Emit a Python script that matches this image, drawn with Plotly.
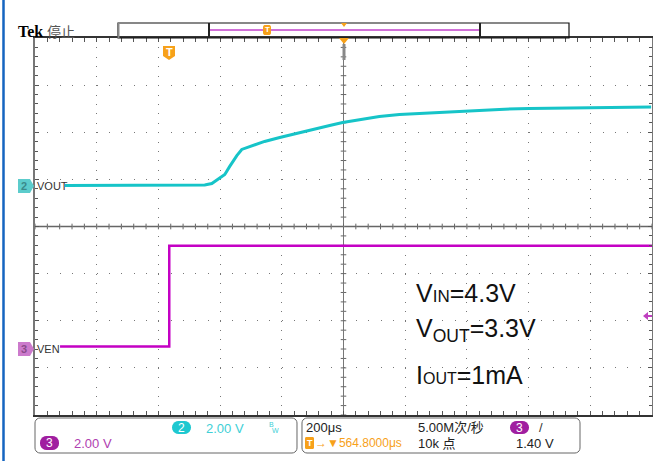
import plotly.graph_objects as go
import numpy as np

W, H = 653, 461

# ---------------- data ----------------
# time axis in microseconds, relative to the trigger (200 us/div, 10 div)
t_start, t_end = -435.2, 1564.8
t_center = 564.8

# Channel 2: VOUT (volts)
vout_t = [-338, -225, -63, 66, 115, 138, 163, 180, 196, 209, 219, 235, 254, 270,
          309, 358, 422, 464, 520, 562, 617, 681, 746, 811, 875, 940, 1005, 1070,
          1167, 1264, 1361, 1458, 1562]
vout_v = [0.0, 0.0, 0.0, 0.0, 0.02, 0.085, 0.30, 0.47, 0.81, 1.10, 1.27, 1.53, 1.61,
          1.70, 1.87, 2.04, 2.25, 2.38, 2.55, 2.67, 2.80, 2.93, 3.01, 3.06, 3.10,
          3.14, 3.18, 3.23, 3.27, 3.29, 3.31, 3.33, 3.33]

# Channel 3: VEN (volts)
ven_t = [-354, 0, 1564.8]
ven_v = [0.0, 4.27, 4.27]

# channel vertical settings (V/div, ground offset in divisions from centre)
ch2_scale, ch2_offset = 2.0, 0.870
ch3_scale, ch3_offset = 2.0, -2.546

status_ch2 = "2.00 V"
status_ch3 = "2.00 V"
status_time = "200μs"
status_pos = "→▼564.8000μs"
status_rate = "5.00M次/秒"
status_pts = "10k 点"
status_trig = "1.40 V"

CYAN = "#16c4c8"
MAG = "#c400c4"
ORANGE = "#f7a11a"
NARROW = "Liberation Sans, Noto Sans CJK SC, sans-serif"


def px(x):
    return x / W


def py(y):
    return 1 - y / H


fig = go.Figure()
fig.add_trace(go.Scatter(x=vout_t, y=vout_v, yaxis="y2", mode="lines",
                         line=dict(color=CYAN, width=3), hoverinfo="skip"))
fig.add_trace(go.Scatter(x=ven_t, y=ven_v, yaxis="y3", mode="lines",
                         line=dict(color=MAG, width=2.5, shape="hv"), hoverinfo="skip"))

shapes = []
annotations = []

# centre cross lines
shapes.append(dict(type="line", xref="x", yref="y", x0=t_center, x1=t_center, y0=-4, y1=4,
                   line=dict(color="#777", width=1), layer="below"))
shapes.append(dict(type="line", xref="x", yref="y", x0=t_start, x1=t_end, y0=0, y1=0,
                   line=dict(color="#666", width=1.5), layer="below"))
for tt in np.arange(t_start, t_end + 1, 40):
    shapes.append(dict(type="line", xref="x", yref="y", x0=tt, x1=tt, y0=-0.06, y1=0.06,
                       line=dict(color="#666", width=1), layer="below"))
for yy in np.arange(-4, 4.01, 0.2):
    shapes.append(dict(type="line", xref="x", yref="y", x0=t_center - 9, x1=t_center + 9,
                       y0=yy, y1=yy, line=dict(color="#666", width=1), layer="below"))


def pline(x0, y0, x1, y1, color, width):
    shapes.append(dict(type="line", xref="paper", yref="paper", x0=px(x0), y0=py(y0),
                       x1=px(x1), y1=py(y1), line=dict(color=color, width=width)))


def ppath(pts, fill, line_color=None, width=0):
    d = "M " + " L ".join(f"{px(a):.5f},{py(b):.5f}" for a, b in pts) + " Z"
    shapes.append(dict(type="path", xref="paper", yref="paper", path=d, fillcolor=fill,
                       line=dict(color=line_color or fill, width=width)))


def rrect(x0, y0, x1, y1, r, fill=None, line_color="#666", width=1):
    pts = []
    for cx, cy, a0 in [(x1 - r, y0 + r, -90), (x1 - r, y1 - r, 0), (x0 + r, y1 - r, 90), (x0 + r, y0 + r, 180)]:
        for a in np.linspace(a0, a0 + 90, 6):
            pts.append((cx + r * np.cos(np.radians(a)), cy + r * np.sin(np.radians(a))))
    d = "M " + " L ".join(f"{px(a):.5f},{py(b):.5f}" for a, b in pts) + " Z"
    shapes.append(dict(type="path", xref="paper", yref="paper", path=d,
                       fillcolor=fill if fill else "rgba(0,0,0,0)",
                       line=dict(color=line_color, width=width)))


def text(x, y, s, size, color="#222", family=NARROW, xanchor="left", bold=False):
    annotations.append(dict(x=px(x), y=py(y), xref="paper", yref="paper", text=(f"<b>{s}</b>" if bold else s),
                            showarrow=False, xanchor=xanchor, yanchor="middle",
                            font=dict(size=size, color=color, family=family)))


# left blue edge
pline(3.5, 0, 3.5, H, "#1565c0", 2.5)

# header
text(16, 31, "Tek", 16, "#000", "Liberation Serif, serif", bold=True)
text(45, 31, "停止", 14, "#555", "Noto Sans CJK SC")

# record bar
shapes.append(dict(type="rect", xref="paper", yref="paper", x0=px(118), x1=px(569), y0=py(38), y1=py(23),
                   line=dict(color="#111", width=1.2)))
pline(118.5, 23, 118.5, 38, "#888", 2)
pline(209, 30, 480, 30, "#d070d8", 2)
pline(209, 23, 209, 38, "#222", 2)
pline(480, 23, 480, 38, "#222", 2)
rrect(263, 25, 271, 35, 2, fill=ORANGE, line_color=ORANGE, width=0)
text(267, 30, "T", 8, "#fff", "Liberation Sans", xanchor="center", bold=True)
ppath([(341, 23), (347, 23), (344, 27)], ORANGE)
ppath([(339, 38), (349, 38), (344, 44)], ORANGE)
pline(344, 44, 344, 60, "#888", 3)

# trigger position badge
ppath([(163, 46), (175, 46), (175, 56), (169, 60), (163, 56)], ORANGE)
text(169, 52, "T", 11, "#fff", "Liberation Sans", xanchor="center", bold=True)

# channel ground markers
ppath([(18, 179), (30, 179), (34, 186), (30, 193), (18, 193)], "#5ccccc")
text(24, 186, "2", 11, "#3a8a8a", "Liberation Sans", xanchor="center", bold=True)
text(35, 186, "VOUT", 11, "#333")
ppath([(18, 342), (30, 342), (34, 349), (30, 356), (18, 356)], "#cc7acc")
text(24, 349, "3", 11, "#8a4a8a", "Liberation Sans", xanchor="center", bold=True)
text(35, 349, "VEN", 11, "#333")

# trigger level marker on right
ppath([(643, 316), (648, 312), (648, 320)], "#c040c0")
pline(647, 316, 652, 316, "#c040c0", 2)

# measurement text
annotations.append(dict(x=px(414), y=py(293), xref="paper", yref="paper", showarrow=False,
                        xanchor="left", yanchor="middle",
                        text="V<span style='font-size:17px'>IN</span>=4.3V",
                        font=dict(size=25, color="#111", family="Liberation Sans, Arial")))
annotations.append(dict(x=px(414), y=py(330), xref="paper", yref="paper", showarrow=False,
                        xanchor="left", yanchor="middle",
                        text="V<sub>OUT</sub>=3.3V",
                        font=dict(size=25, color="#111", family="Liberation Sans, Arial")))
annotations.append(dict(x=px(414), y=py(375), xref="paper", yref="paper", showarrow=False,
                        xanchor="left", yanchor="middle",
                        text="I<span style='font-size:16px'>OUT</span>=1mA",
                        font=dict(size=25, color="#111", family="Liberation Sans, Arial")))

# status boxes
rrect(35, 418, 297, 453, 5)
rrect(302, 418, 580, 453, 5)
rrect(172, 421, 191, 434, 6.5, fill="#1ec8d0", line_color="#1ec8d0", width=0)
text(181.5, 427.5, "2", 12, "#fff", "Liberation Sans", xanchor="center")
text(204, 428, status_ch2, 13, "#3ecfd6")
text(271, 424, "B", 7, "#3ecfd6", "Liberation Sans", xanchor="center")
text(275, 430, "W", 7, "#3ecfd6", "Liberation Sans", xanchor="center")
rrect(40, 436, 59, 450, 6.5, fill="#a01ea0", line_color="#a01ea0", width=0)
text(49.5, 443, "3", 12, "#fff", "Liberation Sans", xanchor="center")
text(72, 443, status_ch3, 13, "#b040b0")

text(304, 427, status_time, 13, "#222")
rrect(305, 437, 314, 449, 1.5, fill=ORANGE, line_color=ORANGE, width=0)
text(309.5, 443, "T", 9, "#fff", "Liberation Sans", xanchor="center", bold=True)
text(313, 443, status_pos, 12, ORANGE)
text(416, 427, status_rate, 13, "#222")
text(416, 443, status_pts, 13, "#222")
rrect(510, 421, 529, 434, 6.5, fill="#a01ea0", line_color="#a01ea0", width=0)
text(519.5, 427.5, "3", 12, "#fff", "Liberation Sans", xanchor="center")
text(537, 427, "/", 13, "#333")
text(514, 443, status_trig, 13, "#222")

xdom = [35 / W, 652 / W]
ydom = [1 - 415 / H, 1 - 38 / H]

fig.update_layout(
    width=W, height=H, margin=dict(l=0, r=0, t=0, b=0),
    paper_bgcolor="white", plot_bgcolor="white", showlegend=False,
    xaxis=dict(domain=xdom, range=[t_start, t_end], tick0=t_start, dtick=200,
               showticklabels=False, ticks="inside", ticklen=4, tickcolor="#555",
               showline=True, linecolor="#333", linewidth=1.5, mirror="allticks",
               showgrid=True, gridcolor="#777", gridwidth=1, griddash="1px,8.42px",
               zeroline=False, fixedrange=True,
               minor=dict(tick0=t_start, dtick=40, ticks="inside", ticklen=3, tickcolor="#555", showgrid=False)),
    yaxis=dict(domain=ydom, range=[-4, 4], tick0=-4, dtick=1,
               showticklabels=False, ticks="inside", ticklen=4, tickcolor="#555",
               showline=True, linecolor="#777", linewidth=1.5, mirror="allticks",
               showgrid=True, gridcolor="#777", gridwidth=1, griddash="1px,11.34px",
               zeroline=False, fixedrange=True,
               minor=dict(tick0=-4, dtick=0.2, ticks="inside", ticklen=3, tickcolor="#555", showgrid=False)),
    yaxis2=dict(overlaying="y", range=[(-4 - ch2_offset) * ch2_scale, (4 - ch2_offset) * ch2_scale],
                visible=False, fixedrange=True),
    yaxis3=dict(overlaying="y", range=[(-4 - ch3_offset) * ch3_scale, (4 - ch3_offset) * ch3_scale],
                visible=False, fixedrange=True),
    shapes=shapes, annotations=annotations,
)

fig.write_html("out.html", config={"displayModeBar": False},
               post_script="document.body.style.margin='0';document.body.style.overflow='hidden';")
